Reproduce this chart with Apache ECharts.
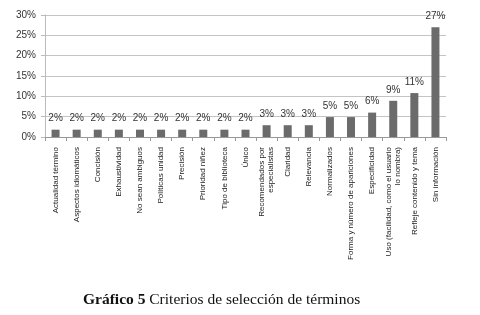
<!DOCTYPE html>
<html>
<head>
<meta charset="utf-8">
<script src="https://cdn.jsdelivr.net/npm/echarts@6/dist/echarts.min.js"></script>
<style>
html, body { margin: 0; padding: 0; background: #fff; }
#main { width: 480px; height: 315px; }
</style>
</head>
<body>
<div id="main"></div>
<script>
var criterios = [
	'Actualidad término', 'Aspectos idiomáticos', 'Concisión', 'Exhaustividad',
	'No sean ambiguos', 'Políticas unidad', 'Precisión', 'Prioridad niñez',
	'Tipo de biblioteca', 'Único', 'Recomendados por\nespecialistas', 'Claridad',
	'Relevancia', 'Normalizados', 'Forma y número de apariciones', 'Especificidad',
	'Uso (facilidad, como el usuario\nlo nombra)', 'Refleje contenido y tema', 'Sin información'
];
var porcentaje = [1.8, 1.8, 1.8, 1.8, 1.8, 1.8, 1.8, 1.8, 1.8, 1.8, 2.9, 2.9, 2.9, 4.9, 4.9, 6.0, 8.9, 10.8, 27.0];
var etiquetas = ['2%', '2%', '2%', '2%', '2%', '2%', '2%', '2%', '2%', '2%', '3%', '3%', '3%', '5%', '5%', '6%', '9%', '11%', '27%'];

var myChart = echarts.init(document.getElementById('main'));

var option = {
	animation : false,
	title : {
		text : '{b|Gráfico 5} Criterios de selección de términos',
		left : 78,
		top : 287,
		textStyle : {
			fontFamily : 'Liberation Serif',
			fontSize : 15.5,
			fontWeight : 'normal',
			color : '#111',
			rich : {
				b : {
					fontFamily : 'Liberation Serif',
					fontSize : 15.5,
					fontWeight : 'bold',
					color : '#111'
				}
			}
		}
	},
	grid : {
		left : 45,
		right : 34,
		top : 15,
		bottom : 178
	},
	xAxis : {
		type : 'category',
		data : criterios,
		axisLine : { show : true, lineStyle : { color : '#999' } },
		axisTick : { show : true, length : 4, lineStyle : { color : '#999' } },
		axisLabel : {
			interval : 0,
			rotate : 90,
			margin : 10,
			fontFamily : 'Liberation Sans',
			fontSize : 8,
			lineHeight : 9,
			color : '#222'
		}
	},
	yAxis : {
		type : 'value',
		min : 0,
		max : 30,
		interval : 5,
		axisLine : { show : true, lineStyle : { color : '#bbb' } },
		axisTick : { show : true, length : 4, lineStyle : { color : '#bbb' } },
		splitLine : { lineStyle : { color : '#c4c4c4' } },
		axisLabel : {
			formatter : '{value}%',
			fontFamily : 'Liberation Sans',
			fontSize : 10,
			color : '#333',
			margin : 9
		}
	},
	series : [
		{
			type : 'bar',
			data : porcentaje,
			barWidth : 8,
			itemStyle : { color : '#6b6b6b' },
			label : {
				show : true,
				position : 'top',
				distance : 6,
				fontFamily : 'Liberation Sans',
				fontSize : 10,
				color : '#333',
				formatter : function (p) { return etiquetas[p.dataIndex]; }
			}
		}
	]
};
myChart.setOption(option);
</script>
</body>
</html>
